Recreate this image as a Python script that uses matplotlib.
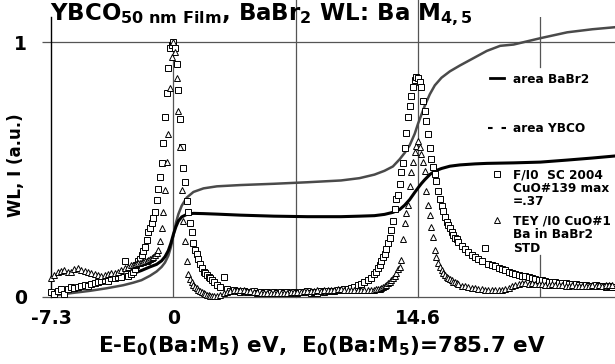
import matplotlib
matplotlib.use("Agg")
import matplotlib.pyplot as plt
from matplotlib.lines import Line2D

# photon energy relative to Ba M5 (eV), shared by both spectra
energy = [
    -7.3, -7.1, -6.9, -6.7, -6.5, -6.3, -6.1, -5.9, -5.7, -5.5, -5.3, -5.1, -4.9,
    -4.7, -4.5, -4.3, -4.1, -3.9, -3.7, -3.5, -3.3, -3.1, -2.9, -2.7, -2.5,
    -2.4, -2.3, -2.2, -2.1, -2.0, -1.9, -1.8, -1.7, -1.6, -1.5, -1.4, -1.3, -1.2,
    -1.1, -1.0, -0.9, -0.8, -0.7, -0.6, -0.5, -0.4, -0.3, -0.2, -0.1, 0.0,
    0.1, 0.2, 0.3, 0.4, 0.5, 0.6, 0.7, 0.8, 0.9, 1.0, 1.1, 1.2, 1.3, 1.4, 1.5,
    1.6, 1.7, 1.8, 1.9, 2.0, 2.1, 2.2, 2.3, 2.4,
    2.6, 2.8, 3.0, 3.2, 3.4, 3.6, 3.8, 4.0, 4.2, 4.4, 4.6, 4.8, 5.0, 5.2, 5.4,
    5.6, 5.8, 6.0, 6.2, 6.4, 6.6, 6.8, 7.0, 7.2, 7.4, 7.6, 7.8, 8.0, 8.2, 8.4,
    8.6, 8.8, 9.0, 9.2, 9.4, 9.6, 9.8, 10.0, 10.2, 10.4, 10.6, 10.8, 11.0, 11.2,
    11.4, 11.6, 11.8, 12.0,
    12.1, 12.2, 12.3, 12.4, 12.5, 12.6, 12.7, 12.8, 12.9, 13.0, 13.1, 13.2, 13.3,
    13.4, 13.5, 13.6, 13.7, 13.8, 13.9, 14.0, 14.1, 14.2, 14.3, 14.4, 14.5, 14.6,
    14.7, 14.8, 14.9, 15.0, 15.1, 15.2, 15.3, 15.4, 15.5, 15.6, 15.7, 15.8, 15.9,
    16.0, 16.1, 16.2, 16.3, 16.4, 16.5, 16.6, 16.7, 16.8, 16.9, 17.0,
    17.2, 17.4, 17.6, 17.8, 18.0, 18.2, 18.4, 18.6, 18.8, 19.0, 19.2, 19.4, 19.6,
    19.8, 20.0, 20.2, 20.4, 20.6, 20.8, 21.0, 21.2, 21.4, 21.6, 21.8, 22.0, 22.2,
    22.4, 22.6, 22.8, 23.0, 23.2, 23.4, 23.6, 23.8, 24.0, 24.2, 24.4, 24.6, 24.8,
    25.0, 25.2, 25.4, 25.6, 25.8, 26.0, 26.2,
]

# F/I0, SC 2004 film (normalised)
f_i0 = [
    0.018, 0.012, 0.022, 0.030, 0.010, 0.033, 0.041, 0.036, 0.040, 0.045, 0.047,
    0.043, 0.050, 0.053, 0.058, 0.061, 0.066, 0.064, 0.073, 0.075, 0.080, 0.078,
    0.141, 0.084, 0.090,
    0.097, 0.110, 0.125, 0.140, 0.150, 0.165, 0.182, 0.198, 0.225, 0.255, 0.272,
    0.289, 0.310, 0.335, 0.380, 0.425, 0.470, 0.525, 0.605, 0.705, 0.800, 0.900,
    0.975, 0.990, 1.000,
    0.975, 0.915, 0.810, 0.700, 0.590, 0.505, 0.450, 0.375, 0.335, 0.290, 0.255,
    0.210, 0.185, 0.167, 0.150, 0.131, 0.114, 0.100, 0.093, 0.086, 0.079, 0.073,
    0.066, 0.060,
    0.047, 0.040, 0.077, 0.030, 0.025, 0.027, 0.022, 0.021, 0.025, 0.019, 0.018,
    0.022, 0.016, 0.019, 0.015, 0.020, 0.016, 0.018, 0.017, 0.021, 0.015, 0.019,
    0.017, 0.020, 0.016, 0.021, 0.018, 0.022, 0.017, 0.020, 0.017, 0.023, 0.021,
    0.024, 0.025, 0.023, 0.028, 0.027, 0.030, 0.032, 0.037, 0.041, 0.046, 0.052,
    0.059, 0.067, 0.076, 0.090,
    0.100, 0.112, 0.125, 0.140, 0.155, 0.170, 0.188, 0.210, 0.230, 0.262, 0.300,
    0.345, 0.385, 0.400, 0.445, 0.489, 0.525, 0.585, 0.645, 0.705, 0.750, 0.790,
    0.825, 0.850, 0.864, 0.860, 0.845, 0.822, 0.770, 0.729, 0.690, 0.640, 0.585,
    0.540, 0.510, 0.483, 0.455, 0.415, 0.385, 0.357, 0.337, 0.315, 0.296, 0.282,
    0.269, 0.256, 0.244, 0.233, 0.228, 0.215,
    0.200, 0.187, 0.176, 0.166, 0.156, 0.149, 0.142, 0.191, 0.131, 0.125, 0.120,
    0.114, 0.108, 0.104, 0.097, 0.093, 0.089, 0.086, 0.083, 0.081, 0.078, 0.075,
    0.071, 0.068, 0.066, 0.063, 0.060, 0.058, 0.057, 0.055, 0.053, 0.054, 0.051,
    0.050, 0.052, 0.048, 0.047, 0.049, 0.045, 0.044, 0.046, 0.042, 0.043, 0.040,
    0.042, 0.039,
]

# TEY/I0, BaBr2 standard (normalised)
tey = [
    0.073, 0.085, 0.097, 0.103, 0.106, 0.100, 0.099, 0.108, 0.113, 0.107, 0.103,
    0.098, 0.093, 0.089, 0.086, 0.084, 0.086, 0.089, 0.093, 0.096, 0.099, 0.106,
    0.115, 0.119, 0.125,
    0.126, 0.128, 0.130, 0.132, 0.134, 0.136, 0.138, 0.141, 0.143, 0.145, 0.148,
    0.152, 0.155, 0.165, 0.172, 0.184, 0.220, 0.270, 0.335, 0.420, 0.530, 0.640,
    0.820, 0.940, 1.000,
    0.960, 0.860, 0.730, 0.590, 0.420, 0.300, 0.220, 0.140, 0.090, 0.070, 0.058,
    0.049, 0.041, 0.035, 0.029, 0.024, 0.019, 0.015, 0.012, 0.009, 0.006, 0.004,
    0.002, 0.003,
    0.004, 0.008, 0.014, 0.021, 0.024, 0.026, 0.027, 0.028, 0.026, 0.025, 0.023,
    0.021, 0.019, 0.017, 0.016, 0.015, 0.016, 0.015, 0.016, 0.017, 0.016, 0.017,
    0.019, 0.020, 0.021, 0.021, 0.023, 0.022, 0.024, 0.025, 0.026, 0.025, 0.027,
    0.028, 0.029, 0.028, 0.030, 0.030, 0.029, 0.028, 0.027, 0.028, 0.027, 0.026,
    0.027, 0.027, 0.028, 0.029,
    0.030, 0.031, 0.033, 0.036, 0.040, 0.044, 0.049, 0.054, 0.060, 0.066, 0.073,
    0.082, 0.093, 0.108, 0.119, 0.145, 0.226, 0.290, 0.330, 0.361, 0.436, 0.491,
    0.530, 0.570, 0.593, 0.612, 0.590, 0.560, 0.531, 0.495, 0.417, 0.361, 0.320,
    0.275, 0.235, 0.185, 0.155, 0.135, 0.118, 0.105, 0.096, 0.088, 0.080, 0.075,
    0.070, 0.065, 0.060, 0.057, 0.053, 0.050,
    0.045, 0.042, 0.039, 0.037, 0.035, 0.033, 0.031, 0.029, 0.028, 0.027, 0.027,
    0.026, 0.027, 0.030, 0.036, 0.042, 0.046, 0.050, 0.053, 0.054, 0.052, 0.053,
    0.051, 0.050, 0.052, 0.049, 0.048, 0.050, 0.047, 0.046, 0.048, 0.045, 0.044,
    0.046, 0.043, 0.044, 0.042, 0.045, 0.043, 0.046, 0.044, 0.047, 0.045, 0.048,
    0.047, 0.049,
]

# integrated areas (white line)
area_e = [
    -7.3, -6.0, -5.0, -4.0, -3.0, -2.4, -1.9, -1.4, -1.0, -0.7, -0.5, -0.3, -0.15,
    0.0, 0.15, 0.3, 0.5, 0.8, 1.2, 1.8, 2.6, 4.0, 6.0, 8.0, 10.0, 11.1, 12.0,
    12.6, 13.1, 13.5, 13.8, 14.1, 14.4, 14.6, 14.8, 15.0, 15.3, 15.6, 16.0, 16.5,
    17.1, 18.0, 18.7, 19.5, 20.3, 21.9, 23.5, 25.0, 26.35,
]
area_babr2 = [
    0.012, 0.028, 0.042, 0.058, 0.078, 0.092, 0.104, 0.118, 0.128, 0.142, 0.158,
    0.182, 0.210, 0.245, 0.275, 0.298, 0.314, 0.324, 0.328, 0.327, 0.325, 0.321,
    0.317, 0.315, 0.315, 0.317, 0.319, 0.324, 0.332, 0.343, 0.360, 0.382, 0.410,
    0.428, 0.445, 0.460, 0.480, 0.494, 0.504, 0.513, 0.518, 0.522, 0.524, 0.525,
    0.526, 0.529, 0.537, 0.545, 0.553,
]
area_ybco = [
    0.005, 0.016, 0.024, 0.034, 0.046, 0.056, 0.066, 0.083, 0.100, 0.118, 0.135,
    0.162, 0.195, 0.240, 0.290, 0.325, 0.358, 0.390, 0.412, 0.426, 0.434, 0.439,
    0.444, 0.450, 0.457, 0.466, 0.480, 0.495, 0.512, 0.540, 0.565, 0.595, 0.640,
    0.680, 0.715, 0.750, 0.795, 0.830, 0.860, 0.885, 0.908, 0.940, 0.965, 0.985,
    0.990, 1.015, 1.038, 1.050, 1.058,
]

x_ticks = [-7.3, 0, 14.6]
x_ticklabels = ["-7.3", "0", "14.6"]
y_ticks = [0, 1]
y_ticklabels = ["0", "1"]

legend_labels = [
    ["area BaBr2"],
    ["area YBCO"],
    ["F/I0  SC 2004", "CuO#139 max", "=.37"],
    ["TEY /I0 CuO#1", "Ba in BaBr2", "STD"],
]

plt.rcParams["font.family"] = ["DejaVu Sans"]
plt.rcParams["font.weight"] = "bold"
plt.rcParams["mathtext.fontset"] = "dejavusans"

W, H = 615, 364
fig = plt.figure(figsize=(W / 100, H / 100), dpi=100)
ax = fig.add_axes([51 / W, 67 / H, 564 / W, 280.5 / H])
ax.set_xlim(-7.3, 26.35)
ax.set_ylim(0, 1.1)

grey = "#555555"
for s in ("top", "right"):
    ax.spines[s].set_visible(False)
ax.spines["left"].set_color("black")
ax.spines["left"].set_linewidth(1.0)
ax.spines["bottom"].set_color(grey)
ax.spines["bottom"].set_linewidth(0.9)

# reference lines
ax.axhline(1, color=grey, lw=0.9, zorder=1)
ax.axvline(0, ymax=1 / 1.1, color=grey, lw=0.9, zorder=1)
ax.axvline(7.3, ymax=1.06, color=grey, lw=0.9, zorder=1, clip_on=False)
ax.axvline(14.6, ymax=1.06, color=grey, lw=0.9, zorder=1, clip_on=False)
ax.axvline(21.9, ymin=0, ymax=0.15, color=grey, lw=0.9, zorder=1)
ax.axvline(21.9, ymin=0.82, ymax=1.0, color=grey, lw=0.9, zorder=1)

ax.plot(area_e, area_ybco, color="#4a4a4a", lw=1.8, zorder=2)
ax.plot(area_e, area_babr2, color="black", lw=2.2, zorder=2)

ax.plot(energy, f_i0, ls="none", marker="s", ms=4.4, mfc="white", mec="black",
        mew=0.7, zorder=3, clip_on=False)
ax.plot(energy, tey, ls="none", marker="^", ms=5.0, mfc="white", mec="black",
        mew=0.7, zorder=3, clip_on=False)

ax.set_xticks(x_ticks)
ax.set_xticklabels(x_ticklabels, fontsize=13.5, fontweight="bold")
ax.set_yticks(y_ticks)
ax.set_yticklabels(y_ticklabels, fontsize=13.5, fontweight="bold")
ax.tick_params(axis="x", length=0, pad=8.5)
ax.tick_params(axis="y", length=6.5, width=0.9, color=grey, pad=11)

# legend, drawn by hand so the handles sit on the first line of each entry
tr = ax.transAxes
hx0, hx1, hxc, tx = 0.778, 0.803, 0.791, 0.819
step = 0.048
first_base = [0.763, 0.588, 0.424, 0.257]
handles = [
    Line2D([hx0, hx1], [0, 0], color="black", lw=2.0),
    Line2D([hx0 - 0.004, hx1 + 0.004], [0, 0], color="black", lw=1.5,
           dashes=(2.2, 4.3)),
    Line2D([hxc], [0], ls="none", marker="s", ms=4.4, mfc="white",
           mec="black", mew=0.7),
    Line2D([hxc], [0], ls="none", marker="^", ms=5.0, mfc="white",
           mec="black", mew=0.7),
]
for h, lines, yb in zip(handles, legend_labels, first_base):
    yc = yb + 0.016
    h.set_ydata([yc] * len(h.get_xdata()))
    h.set_transform(tr)
    h.set_clip_on(False)
    h.set_zorder(4)
    ax.add_line(h)
    for i, txt in enumerate(lines):
        ax.text(tx, yb - i * step, txt, transform=tr, fontsize=8.7,
                fontweight="bold", ha="left", va="baseline", zorder=4)

fig.text(50 / W, 1 - 20.5 / H,
         r"YBCO$_{\mathbf{50\ nm\ Film}}$, BaBr$_{\mathbf{2}}$ WL: Ba M$_{\mathbf{4,5}}$",
         fontsize=16.5, fontweight="bold", ha="left", va="baseline")
fig.text(322 / W, 12 / H,
         r"E-E$_{\mathbf{0}}$(Ba:M$_{\mathbf{5}}$) eV,  E$_{\mathbf{0}}$(Ba:M$_{\mathbf{5}}$)=785.7 eV",
         fontsize=15.5, fontweight="bold", ha="center", va="baseline")
fig.text(16 / W, 1 - 165 / H, "WL, I (a.u.)", rotation=90, fontsize=12,
         fontweight="bold", ha="center", va="center")

fig.savefig("out.png", dpi=100)
